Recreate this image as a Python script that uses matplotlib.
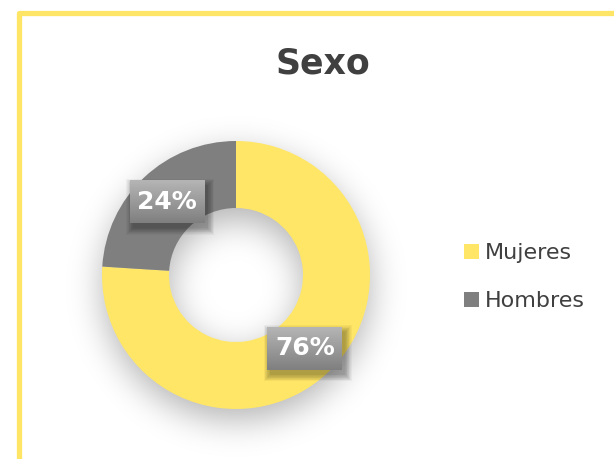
import numpy as np
import matplotlib
matplotlib.use('Agg')
import matplotlib.pyplot as plt
from matplotlib.patches import Rectangle

categories = ['Mujeres', 'Hombres']
values = [76, 24]
colors = ['#FFE666', '#7F7F7F']
title = 'Sexo'

W, H = 614, 459
fig = plt.figure(figsize=(W / 100, H / 100), dpi=100)
fig.patch.set_facecolor('white')

# yellow frame
fig.patches.append(Rectangle((18.5 / W, -3 / H), 1.2, (H - 12.5 + 3) / H,
                             transform=fig.transFigure, fill=False,
                             ec='#FFE566', lw=3.8, joinstyle='round', zorder=0))

# donut axes: 1 data unit = R px
R = 134.0
L = 1.45
cx, cy = 236.0, 275.0
ax = fig.add_axes([(cx - L * R) / W, (H - cy - L * R) / H, 2 * L * R / W, 2 * L * R / H])
ax.axis('off')

# soft shadow
N = 460
g = np.linspace(-L, L, N)
X, Y = np.meshgrid(g, g)
off = 12 / R
rr = np.sqrt(X ** 2 + (Y + off) ** 2)
mask = ((rr <= 1.0) & (rr >= 0.5)).astype(float)
sig = (17 / R) / (g[1] - g[0])
k = np.arange(-int(4 * sig), int(4 * sig) + 1)
ker = np.exp(-0.5 * (k / sig) ** 2)
ker /= ker.sum()
bl = np.apply_along_axis(lambda m: np.convolve(m, ker, mode='same'), 0, mask)
bl = np.apply_along_axis(lambda m: np.convolve(m, ker, mode='same'), 1, bl)
rgba = np.zeros((N, N, 4))
rgba[..., 3] = 0.30 * bl
ax.imshow(rgba, extent=[-L, L, -L, L], origin='lower', zorder=0, interpolation='bilinear')

ax.pie(values, colors=colors, startangle=90, counterclock=False, radius=1,
       wedgeprops=dict(width=0.5, edgecolor='none'))

# data labels in gradient boxes
total = sum(values)
start = 90.0
bw, bh = 75 / R, 43 / R
for v in values:
    span = 360.0 * v / total
    mid = np.deg2rad(start - span / 2)
    start -= span
    x, y = 0.75 * np.cos(mid), 0.75 * np.sin(mid)
    # soft box shadow
    for s in range(10):
        e = s * 0.7 / R
        ax.add_patch(Rectangle((x - bw / 2 + 3 / R - e, y - bh / 2 - 5 / R - e),
                               bw + 2 * e, bh + 2 * e, fc='black', ec='none',
                               alpha=0.035, zorder=4))
    grad = np.linspace(0.71, 0.50, 60)[:, None] * np.ones((1, 10))
    grad = np.dstack([grad, grad, grad])
    ax.imshow(grad, extent=[x - bw / 2, x + bw / 2, y - bh / 2, y + bh / 2],
              origin='upper', zorder=5, interpolation='bilinear', aspect='auto')
    ax.text(x, y, f'{v}%', ha='center', va='center', color='white',
            fontsize=18, fontweight='bold', zorder=6)
ax.set_xlim(-L, L)
ax.set_ylim(-L, L)
ax.set_aspect('equal')

# title
fig.text(322.5 / W, (H - 73) / H, title, ha='center', va='baseline',
         fontsize=25, fontweight='bold', color='#404040')

# legend
for i, (cat, col) in enumerate(zip(categories, colors)):
    base = 259 + i * 48
    fig.patches.append(Rectangle((464 / W, (H - base) / H), 15 / W, 15 / H,
                                 transform=fig.transFigure, fc=col, ec='none'))
    fig.text(485 / W, (H - base) / H, cat, ha='left', va='baseline',
             fontsize=16, color='#404040')

fig.savefig('out.png', dpi=100)
